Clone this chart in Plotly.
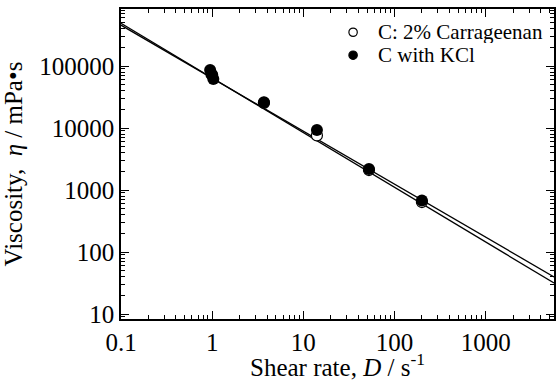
import plotly.graph_objects as go

# Shear rate (1/s) and viscosity (mPa·s) measurements
shear_plain = [1.0, 3.7, 14.1, 52.5, 200]
visc_plain = [72000, 25500, 7600, 2100, 640]

shear_kcl = [0.95, 0.98, 1.03, 3.7, 14.1, 52.5, 200]
visc_kcl = [86000, 74000, 62000, 26000, 9300, 2180, 680]

series_names = ["C: 2% Carrageenan", "C with KCl"]

# Power-law fits: eta = K * D**n
fit_K = [63800, 64300]
fit_n = [-0.855, -0.882]
fit_span = [0.1, 5620]

x_ticks = [0.1, 1, 10, 100, 1000]
x_tick_text = ["0.1", "1", "10", "100", "1000"]
y_ticks = [10, 100, 1000, 10000, 100000]
y_tick_text = ["10", "100", "1000", "10000", "100000"]

x_minor = [m * 10 ** e for e in range(-1, 4) for m in range(2, 10)]
y_minor = [m * 10 ** e for e in range(0, 6) for m in range(2, 10)]

FONT = "Times New Roman, Liberation Serif, serif"

fig = go.Figure()

for K, n in zip(fit_K, fit_n):
    fig.add_trace(go.Scatter(
        x=fit_span, y=[K * d ** n for d in fit_span],
        mode="lines", line=dict(color="black", width=1.3),
        showlegend=False, hoverinfo="skip",
    ))

fig.add_trace(go.Scatter(
    x=shear_plain, y=visc_plain, mode="markers", name=series_names[0],
    showlegend=False,
    marker=dict(symbol="circle", size=11, color="white",
                line=dict(color="black", width=1.2)),
))
fig.add_trace(go.Scatter(
    x=shear_kcl, y=visc_kcl, mode="markers", name=series_names[1],
    showlegend=False,
    marker=dict(symbol="circle", size=12, color="black",
                line=dict(color="black", width=0)),
))

axis_common = dict(
    type="log", showgrid=False, zeroline=False,
    showline=True, linecolor="black", linewidth=1.6, mirror="ticks",
    ticks="inside", ticklen=8, tickwidth=1.2, tickcolor="black",
    tickfont=dict(family=FONT, size=25, color="black"),
)

fig.update_xaxes(
    **axis_common,
    range=[-1, 3.75],
    tickvals=x_ticks, ticktext=x_tick_text,
    minor=dict(tickmode="array", tickvals=x_minor, ticks="inside", ticklen=4,
               tickwidth=1, tickcolor="black", showgrid=False),
    title=dict(text="Shear rate, <i>D</i> / s<sup>-1</sup>",
               font=dict(family=FONT, size=25, color="black"), standoff=2),
)
fig.update_yaxes(
    **axis_common,
    range=[0.92, 5.92],
    tickvals=y_ticks, ticktext=y_tick_text,
    minor=dict(tickmode="array", tickvals=y_minor, ticks="inside", ticklen=4,
               tickwidth=1, tickcolor="black", showgrid=False),
    title=dict(text="Viscosity,  <i>η</i> / mPa•s",
               font=dict(family=FONT, size=25, color="black"), standoff=9),
)

# Legend block in the upper right of the plot area
legend_x_marker = 0.536
legend_x_text = 0.591
legend_rows = [0.925, 0.851]
legend_fill = ["white", "black"]
for name, ry, fill in zip(series_names, legend_rows, legend_fill):
    fig.add_shape(
        type="circle", xref="paper", yref="paper",
        xsizemode="pixel", ysizemode="pixel",
        xanchor=legend_x_marker, yanchor=ry,
        x0=-4.2, x1=4.2, y0=-4.2, y1=4.2,
        fillcolor=fill, line=dict(color="black", width=1.2),
    )
    fig.add_annotation(
        x=legend_x_text, y=ry, xref="paper", yref="paper",
        xanchor="left", yanchor="middle", showarrow=False,
        height=22, borderpad=0,
        text=name, font=dict(family=FONT, size=21, color="black"),
    )

fig.update_layout(
    width=556, height=381,
    margin=dict(l=121, r=2, t=9, b=62, autoexpand=False),
    paper_bgcolor="white", plot_bgcolor="white",
    font=dict(family=FONT, color="black"),
    showlegend=False,
)

fig.write_html("out.html")
